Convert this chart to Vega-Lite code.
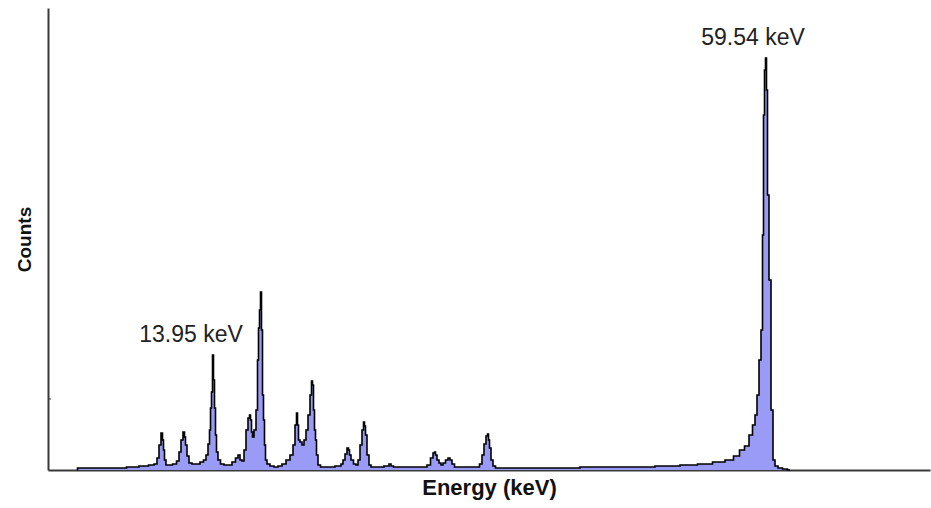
{
  "$schema": "https://vega.github.io/schema/vega-lite/v6.json",
  "width": 882,
  "height": 462,
  "autosize": "none",
  "padding": {"left": 48, "top": 8, "right": 1, "bottom": 38},
  "background": "white",
  "config": {"view": {"stroke": null}},
  "datasets": {
    "spectrum": [
      {"channel": 29, "counts": 0}, {"channel": 30, "counts": 2}, {"channel": 52, "counts": 2}, {"channel": 72, "counts": 2},
      {"channel": 85, "counts": 3}, {"channel": 97, "counts": 4}, {"channel": 104, "counts": 5}, {"channel": 108, "counts": 6},
      {"channel": 110, "counts": 12}, {"channel": 112, "counts": 25}, {"channel": 114, "counts": 37}, {"channel": 115, "counts": 30},
      {"channel": 116, "counts": 20}, {"channel": 117, "counts": 10}, {"channel": 119, "counts": 5}, {"channel": 122, "counts": 5},
      {"channel": 127, "counts": 6}, {"channel": 130, "counts": 9}, {"channel": 132, "counts": 18}, {"channel": 134, "counts": 30},
      {"channel": 136, "counts": 38}, {"channel": 137, "counts": 33}, {"channel": 138, "counts": 25}, {"channel": 140, "counts": 14},
      {"channel": 142, "counts": 7}, {"channel": 146, "counts": 6}, {"channel": 150, "counts": 6}, {"channel": 154, "counts": 8},
      {"channel": 157, "counts": 10}, {"channel": 159, "counts": 15}, {"channel": 161, "counts": 26}, {"channel": 162, "counts": 40},
      {"channel": 163, "counts": 62}, {"channel": 164, "counts": 78}, {"channel": 165, "counts": 115}, {"channel": 166, "counts": 90},
      {"channel": 167, "counts": 62}, {"channel": 168, "counts": 35}, {"channel": 169, "counts": 18}, {"channel": 171, "counts": 10},
      {"channel": 174, "counts": 6}, {"channel": 178, "counts": 5}, {"channel": 182, "counts": 5}, {"channel": 186, "counts": 8},
      {"channel": 189, "counts": 12}, {"channel": 191, "counts": 15}, {"channel": 193, "counts": 10}, {"channel": 195, "counts": 9},
      {"channel": 197, "counts": 20}, {"channel": 199, "counts": 40}, {"channel": 201, "counts": 52}, {"channel": 202, "counts": 55},
      {"channel": 203, "counts": 50}, {"channel": 204, "counts": 38}, {"channel": 205, "counts": 33}, {"channel": 207, "counts": 40},
      {"channel": 209, "counts": 60}, {"channel": 210, "counts": 110}, {"channel": 211, "counts": 142}, {"channel": 212, "counts": 160},
      {"channel": 213, "counts": 178}, {"channel": 214, "counts": 140}, {"channel": 215, "counts": 75}, {"channel": 216, "counts": 50},
      {"channel": 217, "counts": 25}, {"channel": 218, "counts": 10}, {"channel": 220, "counts": 6}, {"channel": 224, "counts": 4},
      {"channel": 228, "counts": 3}, {"channel": 232, "counts": 4}, {"channel": 236, "counts": 6}, {"channel": 240, "counts": 10},
      {"channel": 244, "counts": 15}, {"channel": 246, "counts": 25}, {"channel": 248, "counts": 45}, {"channel": 249, "counts": 57},
      {"channel": 250, "counts": 45}, {"channel": 251, "counts": 30}, {"channel": 253, "counts": 28}, {"channel": 255, "counts": 25},
      {"channel": 257, "counts": 30}, {"channel": 259, "counts": 40}, {"channel": 261, "counts": 55}, {"channel": 263, "counts": 75},
      {"channel": 264, "counts": 89}, {"channel": 265, "counts": 85}, {"channel": 266, "counts": 60}, {"channel": 267, "counts": 40},
      {"channel": 268, "counts": 30}, {"channel": 269, "counts": 15}, {"channel": 271, "counts": 5}, {"channel": 274, "counts": 3},
      {"channel": 282, "counts": 3}, {"channel": 292, "counts": 4}, {"channel": 294, "counts": 6}, {"channel": 296, "counts": 10},
      {"channel": 298, "counts": 16}, {"channel": 300, "counts": 22}, {"channel": 301, "counts": 20}, {"channel": 302, "counts": 15},
      {"channel": 304, "counts": 10}, {"channel": 307, "counts": 6}, {"channel": 309, "counts": 5}, {"channel": 311, "counts": 10},
      {"channel": 313, "counts": 25}, {"channel": 315, "counts": 40}, {"channel": 316, "counts": 48}, {"channel": 317, "counts": 44},
      {"channel": 318, "counts": 35}, {"channel": 320, "counts": 15}, {"channel": 322, "counts": 5}, {"channel": 324, "counts": 3},
      {"channel": 332, "counts": 3}, {"channel": 340, "counts": 4}, {"channel": 342, "counts": 6}, {"channel": 344, "counts": 4},
      {"channel": 347, "counts": 3}, {"channel": 362, "counts": 3}, {"channel": 377, "counts": 3}, {"channel": 381, "counts": 5},
      {"channel": 384, "counts": 12}, {"channel": 386, "counts": 17}, {"channel": 387, "counts": 18}, {"channel": 388, "counts": 15},
      {"channel": 390, "counts": 10}, {"channel": 392, "counts": 7}, {"channel": 394, "counts": 5}, {"channel": 396, "counts": 7},
      {"channel": 399, "counts": 10}, {"channel": 401, "counts": 12}, {"channel": 403, "counts": 10}, {"channel": 405, "counts": 6},
      {"channel": 408, "counts": 3}, {"channel": 417, "counts": 3}, {"channel": 430, "counts": 3}, {"channel": 433, "counts": 6},
      {"channel": 435, "counts": 15}, {"channel": 437, "counts": 26}, {"channel": 439, "counts": 34}, {"channel": 440, "counts": 36},
      {"channel": 441, "counts": 30}, {"channel": 442, "counts": 22}, {"channel": 444, "counts": 10}, {"channel": 446, "counts": 4},
      {"channel": 449, "counts": 2}, {"channel": 472, "counts": 2}, {"channel": 512, "counts": 2}, {"channel": 552, "counts": 3},
      {"channel": 592, "counts": 3}, {"channel": 622, "counts": 4}, {"channel": 642, "counts": 5}, {"channel": 657, "counts": 6},
      {"channel": 672, "counts": 8}, {"channel": 682, "counts": 10}, {"channel": 689, "counts": 14}, {"channel": 694, "counts": 20},
      {"channel": 699, "counts": 24}, {"channel": 703, "counts": 35}, {"channel": 706, "counts": 45}, {"channel": 708, "counts": 55},
      {"channel": 710, "counts": 75}, {"channel": 712, "counts": 110}, {"channel": 714, "counts": 140}, {"channel": 715, "counts": 235},
      {"channel": 716, "counts": 355}, {"channel": 717, "counts": 400}, {"channel": 718, "counts": 412}, {"channel": 719, "counts": 380},
      {"channel": 720, "counts": 275}, {"channel": 722, "counts": 190}, {"channel": 724, "counts": 60}, {"channel": 726, "counts": 10},
      {"channel": 728, "counts": 4}, {"channel": 732, "counts": 2}, {"channel": 737, "counts": 1}, {"channel": 742, "counts": 0}
    ],
    "labels": [
      {"channel": 143, "counts": 128, "label": "13.95 keV"},
      {"channel": 705, "counts": 425, "label": "59.54 keV"}
    ],
    "marks": [
      {"channel": 0, "channel2": 3, "counts": 71}
    ]
  },
  "encoding": {
    "x": {
      "field": "channel", "type": "quantitative",
      "scale": {"domain": [0, 882], "nice": false, "zero": false},
      "axis": {
        "title": "Energy (keV)", "labels": false, "ticks": false, "grid": false,
        "domainColor": "#3a3a3a", "domainWidth": 2,
        "titleFont": "Liberation Sans", "titleFontWeight": "bold", "titleFontSize": 22,
        "titleColor": "#111", "titlePadding": 7
      }
    },
    "y": {
      "field": "counts", "type": "quantitative",
      "scale": {"domain": [0, 462], "nice": false},
      "axis": {
        "title": "Counts", "labels": false, "ticks": false, "grid": false,
        "domainColor": "#3a3a3a", "domainWidth": 2,
        "titleFont": "Liberation Sans", "titleFontWeight": "bold", "titleFontSize": 19,
        "titleColor": "#111", "titlePadding": 14
      }
    }
  },
  "layer": [
    {
      "data": {"name": "spectrum"},
      "mark": {"type": "area", "interpolate": "step", "color": "#9a9af7", "opacity": 1}
    },
    {
      "data": {"name": "spectrum"},
      "mark": {"type": "line", "interpolate": "step", "color": "#000000", "strokeWidth": 1.6}
    },
    {
      "data": {"name": "marks"},
      "mark": {"type": "rule", "color": "#3a3a3a", "strokeWidth": 1},
      "encoding": {"x2": {"field": "channel2"}}
    },
    {
      "data": {"name": "labels"},
      "mark": {"type": "text", "font": "Liberation Sans", "fontSize": 23, "color": "#222", "align": "center", "baseline": "alphabetic"},
      "encoding": {"text": {"field": "label"}}
    }
  ]
}
